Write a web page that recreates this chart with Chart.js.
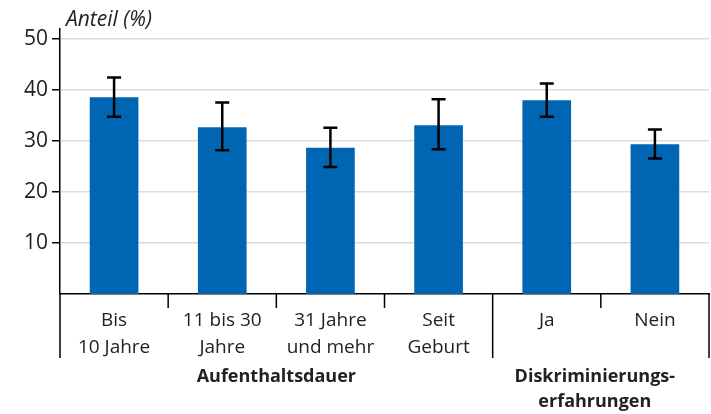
<!DOCTYPE html>
<html>
<head>
<meta charset="utf-8">
<script src="https://cdn.jsdelivr.net/npm/chart.js@4"></script>
<style>
  body { margin: 0; background: #fff; }
  #wrap { width: 711px; height: 414px; position: relative; }
</style>
</head>
<body>
<div id="wrap"><canvas id="myChart"></canvas></div>
<script>
const categories = [['Bis', '10 Jahre'], ['11 bis 30', 'Jahre'], ['31 Jahre', 'und mehr'], ['Seit', 'Geburt'], ['Ja'], ['Nein']]
const values = [38.6, 32.7, 28.7, 33.1, 38.0, 29.4]
const errLow = [34.8, 28.2, 24.9, 28.4, 34.8, 26.6]
const errHigh = [42.5, 37.6, 32.6, 38.2, 41.3, 32.3]
const groupNames = [['Aufenthaltsdauer'], ['Diskriminierungs-', 'erfahrungen']]
const groupSizes = [4, 2]
const yTicks = [10, 20, 30, 40, 50]

const fontFamily = '"Open Sans", sans-serif'
const textColor = '#222'

// error bars, drawn through the scales
const errorBars = {
  id: 'errorBars',
  afterDatasetsDraw(chart) {
    const c = chart.ctx
    const x = chart.scales.x
    const y = chart.scales.y
    c.save()
    c.strokeStyle = '#000'
    c.lineWidth = 2.5
    values.forEach((v, i) => {
      const px = x.getPixelForValue(i)
      const top = y.getPixelForValue(errHigh[i])
      const bot = y.getPixelForValue(errLow[i])
      c.beginPath()
      c.moveTo(px, top); c.lineTo(px, bot)
      c.moveTo(px - 7, top); c.lineTo(px + 7, top)
      c.moveTo(px - 7, bot); c.lineTo(px + 7, bot)
      c.stroke()
    })
    c.restore()
  }
}

// category dividers, group labels and axis title
const decorations = {
  id: 'decorations',
  afterDraw(chart) {
    const c = chart.ctx
    const x = chart.scales.x
    const area = chart.chartArea
    const step = x.getPixelForValue(1) - x.getPixelForValue(0)
    c.save()
    c.strokeStyle = '#000'
    c.lineWidth = 1.5
    let start = 0
    const groupEdges = [0]
    groupSizes.forEach(n => { start += n; groupEdges.push(start) })
    for (let i = 0; i <= categories.length; i++) {
      const px = x.getPixelForValue(i) - step / 2
      const long = groupEdges.includes(i)
      c.beginPath()
      c.moveTo(px, area.bottom)
      c.lineTo(px, area.bottom + (long ? 64 : 14))
      c.stroke()
    }
    c.fillStyle = textColor
    c.textAlign = 'center'
    c.font = 'bold 18px ' + fontFamily
    groupNames.forEach((lines, g) => {
      const a = x.getPixelForValue(groupEdges[g]) - step / 2
      const b = x.getPixelForValue(groupEdges[g + 1]) - step / 2
      const shift = lines.length > 1 ? -6 : 0
      lines.forEach((t, k) => c.fillText(t, (a + b) / 2 + shift, area.bottom + 88 + k * 25))
    })
    c.textAlign = 'left'
    c.font = 'italic 21px ' + fontFamily
    c.fillText('Anteil (%)', area.left + 6, 26)
    c.restore()
  }
}

new Chart('myChart', {
  type: 'bar',
  data: {
    labels: categories,
    datasets: [{
      data: values,
      backgroundColor: '#0066b3',
      barPercentage: 0.45,
      categoryPercentage: 1
    }]
  },
  options: {
    responsive: true,
    maintainAspectRatio: false,
    animation: false,
    layout: { padding: { top: 29, right: 2, left: 0, bottom: 0 } },
    plugins: { legend: { display: false }, tooltip: { enabled: false } },
    scales: {
      x: {
        grid: { display: false },
        border: { color: '#000', width: 1.5 },
        ticks: {
          color: textColor,
          font: { family: fontFamily, size: 19, lineHeight: 1.42 },
          padding: 5,
          maxRotation: 0
        },
        afterFit: s => { s.height = 120 }
      },
      y: {
        min: 0,
        max: 52,
        afterBuildTicks: s => { s.ticks = yTicks.map(v => ({ value: v })) },
        grid: { color: '#dcdcdc', lineWidth: 1.5, tickColor: '#000', tickLength: 8 },
        border: { color: '#000', width: 1.5 },
        ticks: {
          color: textColor,
          font: { family: fontFamily, size: 21 },
          padding: 4
        },
        afterFit: s => { s.width = 60 }
      }
    }
  },
  plugins: [errorBars, decorations]
})
</script>
</body>
</html>
